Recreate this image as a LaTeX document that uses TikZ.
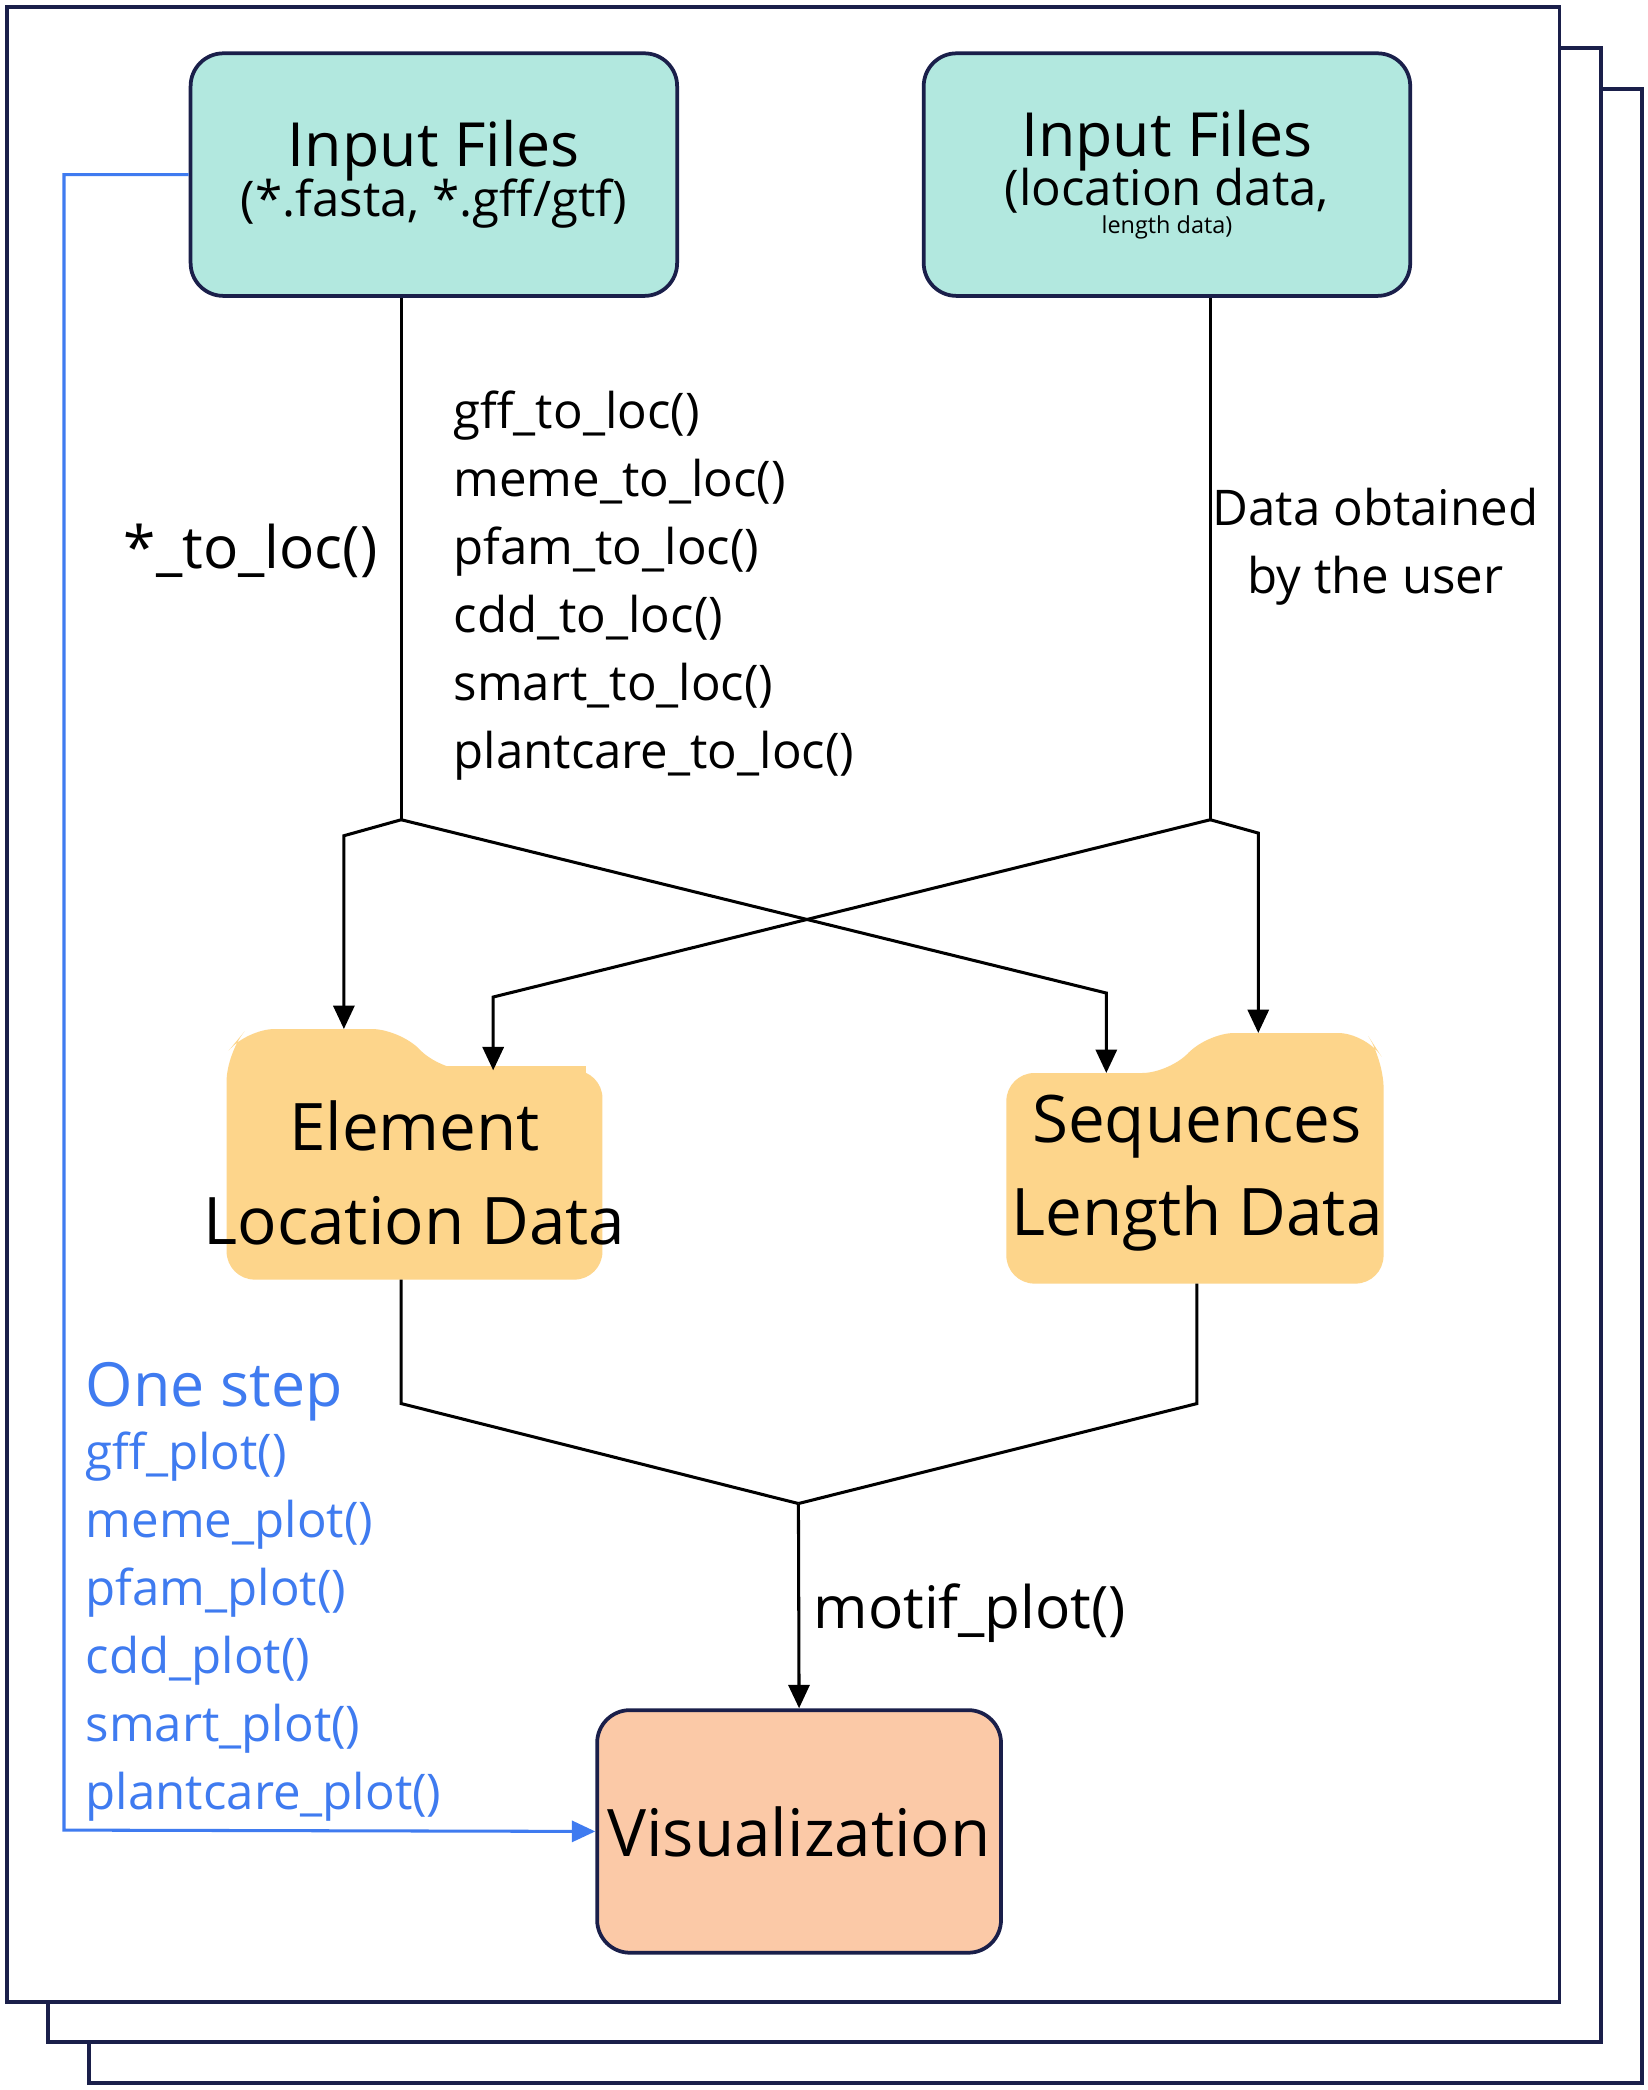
\documentclass[tikz,border=0pt]{standalone}
\usepackage{fontspec}
\setmainfont{Open Sans}
\usetikzlibrary{arrows.meta}
\definecolor{navy}{HTML}{1A1F4A}
\definecolor{teal}{HTML}{B2E8DF}
\definecolor{fold}{HTML}{FDD58B}
\definecolor{peach}{HTML}{FBC9A7}
\definecolor{blu}{HTML}{3F7BF0}
\begin{document}
\begin{tikzpicture}[x=0.02cm,y=-0.02cm,
  page/.style={draw=navy,line width=1.6pt,fill=white},
  box/.style={draw=navy,line width=1.6pt,rounded corners=14pt},
  fl/.style={fill=fold,rounded corners=12pt},
  ln/.style={line width=1.3pt,black},
  arr/.style={ln,-{Triangle[length=10pt,width=9pt]}},
  txt/.style={font=\fontsize{21}{29}\selectfont,align=left,anchor=north west,inner sep=0}]
\useasboundingbox (0,0) rectangle (1236,1568);
\draw[page] (67,67) rectangle (1232,1563);
\draw[page] (36,36) rectangle (1201,1532);
\draw[page] (5,5) rectangle (1170,1502);
% boxes
\node[box,fill=teal,minimum width=365*0.02cm,minimum height=182*0.02cm,align=center] (in1) at (325.5,131)
  {\fontsize{26}{30}\selectfont Input Files\\[-2pt]\fontsize{21}{28}\selectfont (*.fasta, *.gff/gtf)};
\node[box,fill=teal,minimum width=365*0.02cm,minimum height=182*0.02cm,align=center] (in2) at (875.5,131)
  {\fontsize{26}{30}\selectfont Input Files\\[-2pt]\fontsize{21}{28}\selectfont (location data,\\ length data)};
\node[box,fill=peach,minimum width=303*0.02cm,minimum height=182*0.02cm] (vis) at (599.5,1374)
  {\fontsize{28}{32}\selectfont Visualization};
% folders
\fill[fold,rounded corners=12pt] (170,960) -- (170,790) -- (185,772) -- (300,772) -- (330,803) -- (452,803) -- (452,960) -- cycle;
\fill[fold] (180,800) rectangle (440,950);
\fill[fold,rounded corners=12pt] (755,963) -- (755,805) -- (878,805) -- (905,775) -- (1025,775) -- (1038,795) -- (1038,963) -- cycle;
\fill[fold] (765,815) rectangle (1025,950);
\node[align=center,font=\fontsize{28}{40}\selectfont] (eld) at (311,880) {Element\\Location Data};
\node[align=center,font=\fontsize{28}{40}\selectfont] (sld) at (898,880) {Sequences\\Length Data};
\coordinate (e1) at (258,772); \coordinate (e2) at (370,803);
\coordinate (s1) at (830,805); \coordinate (s2) at (944,775);
% connectors
\draw[ln] (in1.south -| 301,0) -- (301,615) coordinate (j1);
\draw[arr] (j1) -- (258,627) -- (e1);
\draw[arr] (j1) -- (830,745) -- (s1);
\draw[ln] (in2.south -| 908,0) -- (908,615) coordinate (j2);
\draw[arr] (j2) -- (944,625) -- (s2);
\draw[arr] (j2) -- (370,748) -- (e2);
\draw[ln] (301,960) -- (301,1053) -- (599,1128) coordinate (j3);
\draw[ln] (898,963) -- (898,1053) -- (j3);
\draw[arr] (j3) -- (vis.north);
\draw[blu,line width=1.3pt,-{Triangle[length=10pt,width=9pt]}] (in1.west) -- (48,131) -- (48,1373) -- (vis.west);
% texts
\node[font=\fontsize{25}{30}\selectfont] (tl) at (188,413) {*\_to\_loc()};
\node[txt] (fl) at (340,293) {gff\_to\_loc()\\meme\_to\_loc()\\pfam\_to\_loc()\\cdd\_to\_loc()\\smart\_to\_loc()\\plantcare\_to\_loc()};
\node[align=center,font=\fontsize{21}{29}\selectfont] (du) at (1032,410) {Data obtained\\by the user};
\node[txt,text=blu,font=\fontsize{26}{30}\selectfont] (os) at (64,1022) {One step};
\node[txt,text=blu] (pl) at (64,1074) {gff\_plot()\\meme\_plot()\\pfam\_plot()\\cdd\_plot()\\smart\_plot()\\plantcare\_plot()};
\node[anchor=west,font=\fontsize{25}{30}\selectfont,inner sep=0] (mp) at (610,1210) {motif\_plot()};
\end{tikzpicture}
\end{document}
